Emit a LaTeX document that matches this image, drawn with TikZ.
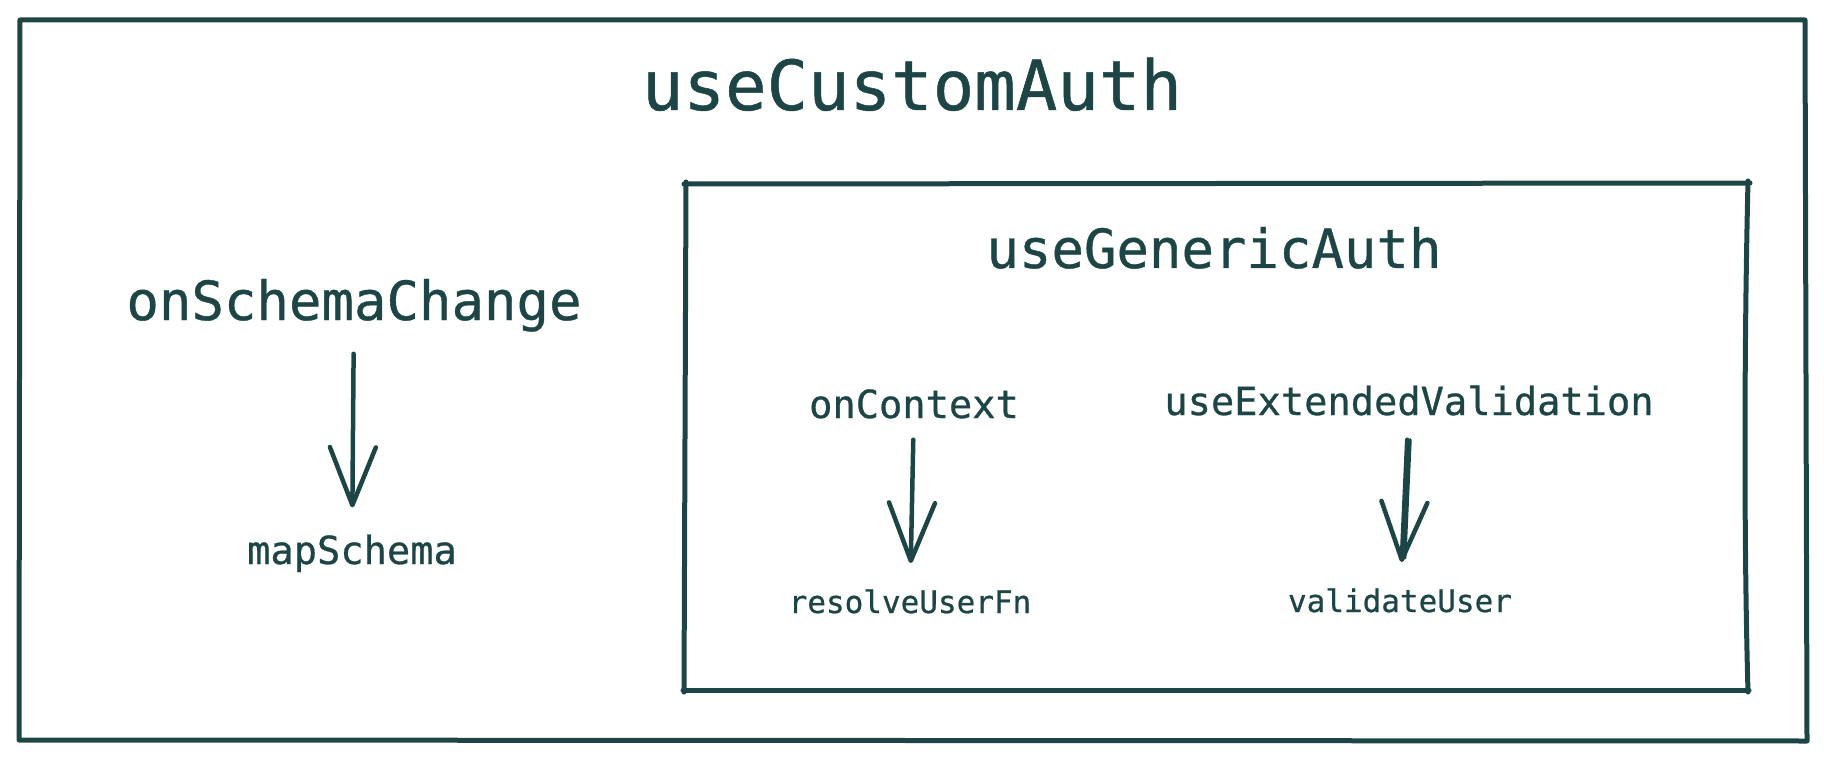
\documentclass[tikz,border=0pt]{standalone}
\usepackage{fontspec}
\newfontfamily\codefont[FakeBold=0.7]{DejaVu Sans Mono}
\usetikzlibrary{arrows.meta}
\definecolor{ink}{RGB}{30,69,69}
\begin{document}
\begin{tikzpicture}[x=1pt,y=-1pt,
  frame/.style={draw=ink, line width=5pt, line cap=round, line join=round},
  lbl/.style={text=ink, inner sep=0pt, anchor=base,
    font=\codefont\fontsize{#1}{#1}\selectfont},
  conn/.style={draw=ink, line width=4.5pt, line cap=round, line join=round,
    -{Straight Barb[length=58pt,width=46pt,round]}},
  shaft/.style={draw=ink, line width=3pt, line cap=round}
]
\useasboundingbox (0,0) rectangle (1824,762);

% outer frame
\draw[frame] (20,20) -- (1805,20) -- (1807,741) -- (19,740) -- cycle;

% inner frame, sketched edge by edge
\draw[frame] (684,184) -- (1750,183);
\draw[frame] (1748,181) .. controls (1744,350) and (1744,550) .. (1748,692);
\draw[frame] (1749,690) -- (683,690);
\draw[frame] (684,692) -- (686,182);

% labels
\node[lbl=69] (custom) at (912,110) {useCustomAuth};
\node[lbl=54] (schema) at (354,320) {onSchemaChange};
\node[lbl=38.7] (map) at (352,564) {mapSchema};
\node[lbl=54] (generic) at (1214,268) {useGenericAuth};
\node[lbl=38.7] (context) at (914,418) {onContext};
\node[lbl=31] (resolve) at (910,613) {resolveUserFn};
\node[lbl=38.7] (ext) at (1409,415) {useExtendedValidation};
\node[lbl=31] (valid) at (1400,612) {validateUser};

% connectors
\draw[conn, shorten <=22pt, shorten >=27pt] (schema) -- (map);
\draw[conn, shorten <=21pt, shorten >=26pt] (context) -- (resolve);
\draw[conn, shorten <=24pt, shorten >=26pt] (ext) -- (valid);
\draw[shaft, shorten <=24pt, shorten >=30pt, transform canvas={xshift=3pt}] (ext) -- (valid);
\end{tikzpicture}
\end{document}
